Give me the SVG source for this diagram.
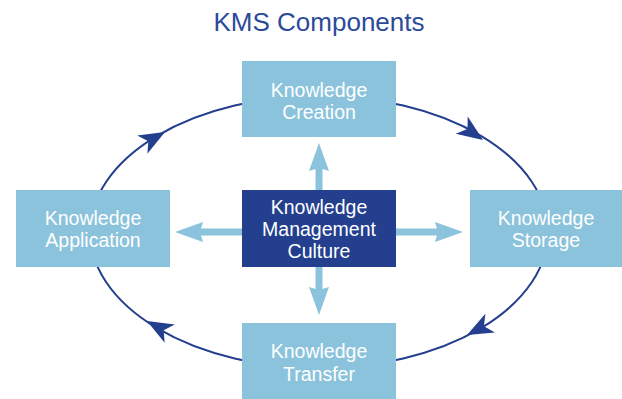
<svg xmlns="http://www.w3.org/2000/svg" width="622" height="399" viewBox="0 0 622 399">
  <defs>
    <style>
      .box { fill: #8bc3dc; }
      .core { fill: #233f8e; }
      .lbl { font-family: "Liberation Sans", Arial, sans-serif; font-size: 19.5px; fill: #ffffff; text-anchor: middle; }
      .title { font-family: "Liberation Sans", Arial, sans-serif; font-size: 26px; fill: #2b4a9b; text-anchor: middle; }
      .cycle { fill: none; stroke: #233f8e; stroke-width: 2; }
      .cyhead { fill: #233f8e; }
      .shaft { stroke: #8bc3dc; stroke-width: 7; fill: none; }
      .head { fill: #8bc3dc; }
    </style>
    <path id="cyArrow" d="M0,0 L-26,-10.5 L-19,0 L-26,10.5 Z"/>
    <path id="bArrow" d="M0,0 L-28,-10 L-25,0 L-28,10 Z"/>
  </defs>

  <text class="title" x="319" y="31">KMS Components</text>

  <g id="connectors">
    <ellipse class="cycle" cx="319" cy="232" rx="229" ry="136"/>
    <use href="#cyArrow" class="cyhead" transform="translate(165,132) rotate(-29)"/>
    <use href="#cyArrow" class="cyhead" transform="translate(483,140) rotate(35)"/>
    <use href="#cyArrow" class="cyhead" transform="translate(467,335) rotate(153)"/>
    <use href="#cyArrow" class="cyhead" transform="translate(147,321) rotate(-151)"/>

    <line class="shaft" x1="319" y1="190" x2="319" y2="165"/>
    <use href="#bArrow" class="head" transform="translate(319,143) rotate(-90)"/>
    <line class="shaft" x1="319" y1="267" x2="319" y2="293"/>
    <use href="#bArrow" class="head" transform="translate(319,315) rotate(90)"/>
    <line class="shaft" x1="242" y1="232" x2="198" y2="232"/>
    <use href="#bArrow" class="head" transform="translate(175,232) rotate(180)"/>
    <line class="shaft" x1="396" y1="232" x2="440" y2="232"/>
    <use href="#bArrow" class="head" transform="translate(463,232)"/>
  </g>

  <g id="creation">
    <rect class="box" x="242" y="61" width="154" height="76"/>
    <text class="lbl" x="319" y="97">Knowledge</text>
    <text class="lbl" x="319" y="119">Creation</text>
  </g>

  <g id="culture">
    <rect class="core" x="242" y="190" width="154" height="77"/>
    <text class="lbl" x="319" y="214">Knowledge</text>
    <text class="lbl" x="319" y="236">Management</text>
    <text class="lbl" x="319" y="258">Culture</text>
  </g>

  <g id="application">
    <rect class="box" x="16" y="190" width="154" height="77"/>
    <text class="lbl" x="93" y="225">Knowledge</text>
    <text class="lbl" x="93" y="247">Application</text>
  </g>

  <g id="storage">
    <rect class="box" x="470" y="190" width="152" height="77"/>
    <text class="lbl" x="546" y="225">Knowledge</text>
    <text class="lbl" x="546" y="247">Storage</text>
  </g>

  <g id="transfer">
    <rect class="box" x="242" y="323" width="154" height="76"/>
    <text class="lbl" x="319" y="358">Knowledge</text>
    <text class="lbl" x="319" y="381">Transfer</text>
  </g>
</svg>
